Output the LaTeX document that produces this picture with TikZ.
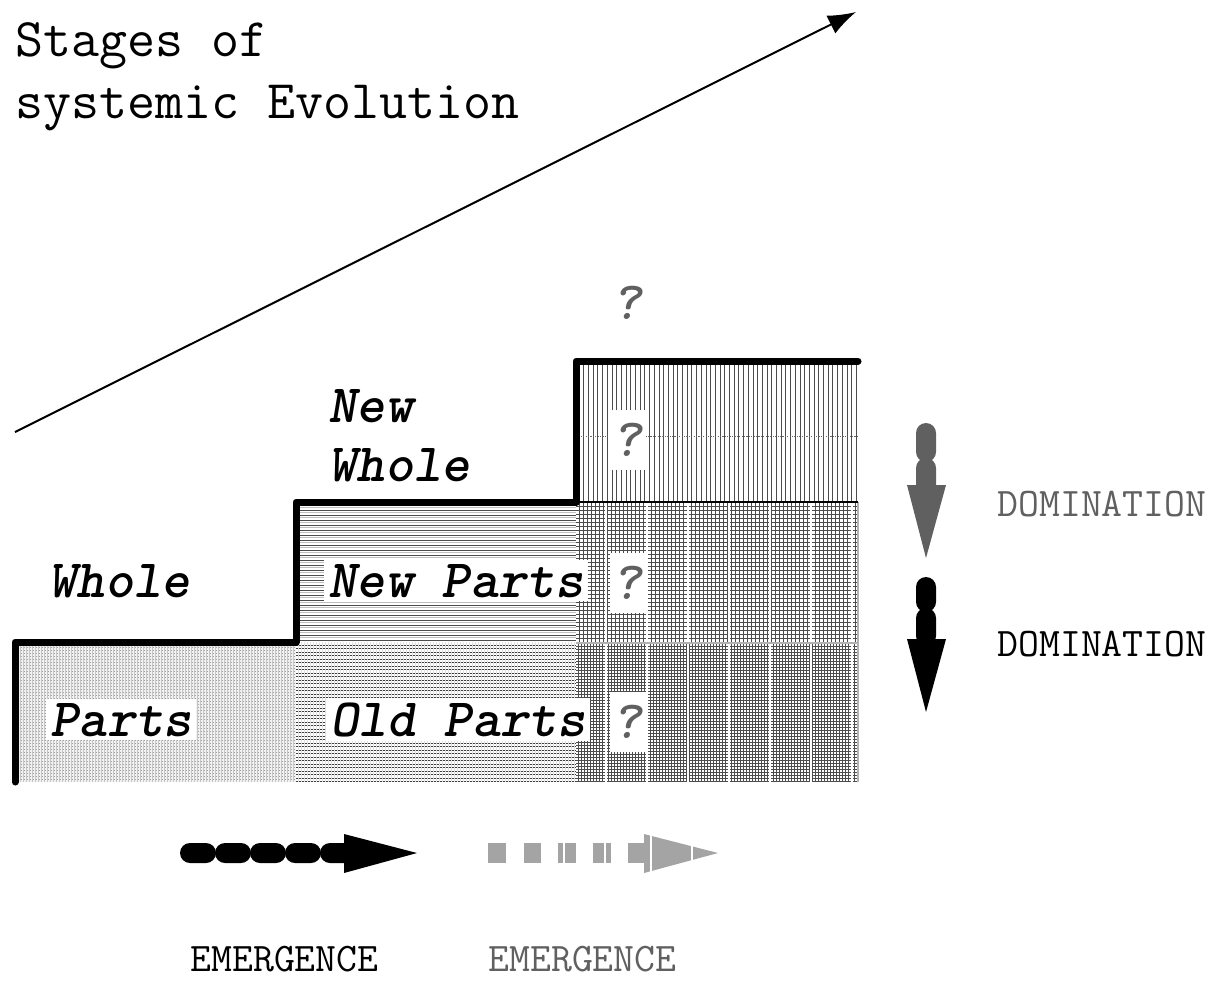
\documentclass[tikz,border=0pt]{standalone}
\usetikzlibrary{arrows.meta}
\definecolor{qgray}{HTML}{606060}
\definecolor{egray}{HTML}{A4A4A4}
\begin{document}
\begin{tikzpicture}[x=0.5pt,y=-0.5pt,
  title/.style={font=\fontsize{27.2}{27.2}\selectfont\ttfamily, inner sep=0pt, anchor=base west},
  lbl/.style={font=\fontsize{27}{27}\selectfont\ttfamily\bfseries\slshape, inner sep=0pt, anchor=base west},
  wlbl/.style={lbl, fill=white, inner sep=2pt},
  qmark/.style={font=\fontsize{27}{27}\selectfont\ttfamily\bfseries\slshape, text=qgray, fill=white, inner sep=2pt, minimum height=30pt},
  small/.style={font=\fontsize{20.3}{20.3}\selectfont\ttfamily, inner sep=0pt, anchor=base west},
  step line/.style={line width=3.5pt, line cap=round, line join=round},
]
\useasboundingbox (0,0) rectangle (1214,981);

% ---------- patterns ----------
% Parts region
\fill[gray!10] (15,642) rectangle (296,782);
\foreach \y in {644,647,...,781} \draw[gray!75, line width=0.25pt, dash pattern=on 0.5pt off 1pt] (15,\y) -- (296,\y);
\foreach \x in {17,20,...,295} \draw[gray!45, line width=0.2pt] (\x,642) -- (\x,782);
% New Parts region
\foreach \y in {505,510,...,640} \draw[black!70, line width=0.4pt] (296,\y) -- (576,\y);
\foreach \y in {507.5,512.5,...,640} \draw[gray!50, line width=0.4pt] (296,\y) -- (576,\y);
% Old Parts region
\foreach \y in {645,648.5,...,782} \draw[black!75, line width=0.4pt] (296,\y) -- (576,\y);
\foreach \x in {298,301,...,576} \draw[gray!25, line width=0.2pt] (\x,642) -- (\x,782);
% right top region: vertical lines
\foreach \x in {579,583.7,...,858} \draw[black!70, line width=0.4pt] (\x,361) -- (\x,502);
\draw[black!60, line width=0.3pt, dash pattern=on 0.6pt off 0.6pt] (576,436) -- (858,436);
% right middle region: grid
\foreach \x in {579,583,...,858} \draw[black!70, line width=0.3pt] (\x,502) -- (\x,642);
\foreach \y in {506,510,...,642} \draw[black!70, line width=0.3pt] (576,\y) -- (858,\y);
\foreach \x in {606,647,688,729,770,811,852} \draw[white, line width=0.9pt] (\x,502) -- (\x,642);
% right bottom region: finer grid
\foreach \x in {578,581,...,858} \draw[black!70, line width=0.3pt] (\x,644) -- (\x,782);
\foreach \y in {646,649,...,782} \draw[black!70, line width=0.3pt] (576,\y) -- (858,\y);
\foreach \x in {606,647,688,729,770,811,852} \draw[white, line width=0.9pt] (\x,644) -- (\x,782);
\draw[gray!60, line width=1pt] (576,643) -- (858,643);
\draw[gray!60, line width=0.6pt] (858,502) -- (858,782);

% ---------- step outline ----------
\coordinate (s0) at (15,782);
\coordinate (s1) at (15,642);
\coordinate (s2) at (296,642);
\coordinate (s3) at (296,502);
\coordinate (s4) at (576,502);
\coordinate (s5) at (576,361);
\coordinate (s6) at (858,361);
\coordinate (s7) at (858,502);
\draw[black, line width=0.9pt] (s4) -- (s7);
\draw[step line] (s0) -- (s1) -- (s2) -- (s3) -- (s4) -- (s5) -- (s6);

% ---------- diagonal arrow ----------
\coordinate (d0) at (15,432);
\coordinate (d1) at (856,12);
\draw[line width=1pt, -{Latex[length=14pt,width=10pt]}] (d0) -- (d1);

% ---------- title ----------
\node[title] (t1) at (15,56) {Stages of};
\node[title] (t2) at (15,118) {systemic Evolution};

% ---------- labels ----------
\node[lbl] (whole) at (48,597) {Whole};
\node[wlbl] (parts) at (46,736) {Parts};
\node[wlbl] (newparts) at (324,597) {New Parts};
\node[wlbl] (oldparts) at (326,736) {Old Parts};
\node[lbl] (new) at (328,422) {New};
\node[lbl] (nwhole) at (328,481) {Whole};
\node[font=\fontsize{27}{27}\selectfont\ttfamily\bfseries\slshape, text=qgray, inner sep=0pt] (q0) at (628,303) {?};
\node[qmark] (q1) at (628,440) {?};
\node[qmark] (q2) at (628,583) {?};
\node[qmark] (q3) at (628,722) {?};

% ---------- domination arrows ----------
\fill[qgray, rounded corners=5pt] (916,423) rectangle (936,462);
\fill[qgray, rounded corners=5pt] (916,458) rectangle (936,496);
\fill[qgray] (907,485) -- (946,485) -- (926,558) -- cycle;
\node[small, text=qgray] (dom1) at (997,516) {DOMINATION};
\fill[black, rounded corners=5pt] (916,577) rectangle (936,612);
\fill[black, rounded corners=5pt] (916,608) rectangle (936,646);
\fill[black] (907,639) -- (946,639) -- (926,712) -- cycle;
\node[small] (dom2) at (997,656) {DOMINATION};

% ---------- emergence arrows ----------
\foreach \x in {180,215,250,285,320}
  \fill[black, rounded corners=5pt] (\x,843) rectangle ++(36,20);
\fill[black] (344,834) -- (417,853) -- (344,873) -- cycle;
\fill[egray] (488,843) rectangle (506,863);
\fill[egray] (524,843) rectangle (541,863);
\fill[egray] (558,843) rectangle (576,863);
\fill[egray] (593,843) rectangle (611,863);
\fill[egray] (628,843) rectangle (650,863);
\fill[egray] (644,834) -- (718,853) -- (644,873) -- cycle;
\draw[white, line width=0.6pt] (564,840) -- (564,866);
\draw[white, line width=0.6pt] (605,840) -- (605,866);
\draw[white, line width=0.6pt] (651,830) -- (651,876);
\draw[white, line width=0.6pt] (692,830) -- (692,876);
\node[small] (em1) at (190,971) {EMERGENCE};
\node[small, text=qgray] (em2) at (488,971) {EMERGENCE};
\end{tikzpicture}
\end{document}
